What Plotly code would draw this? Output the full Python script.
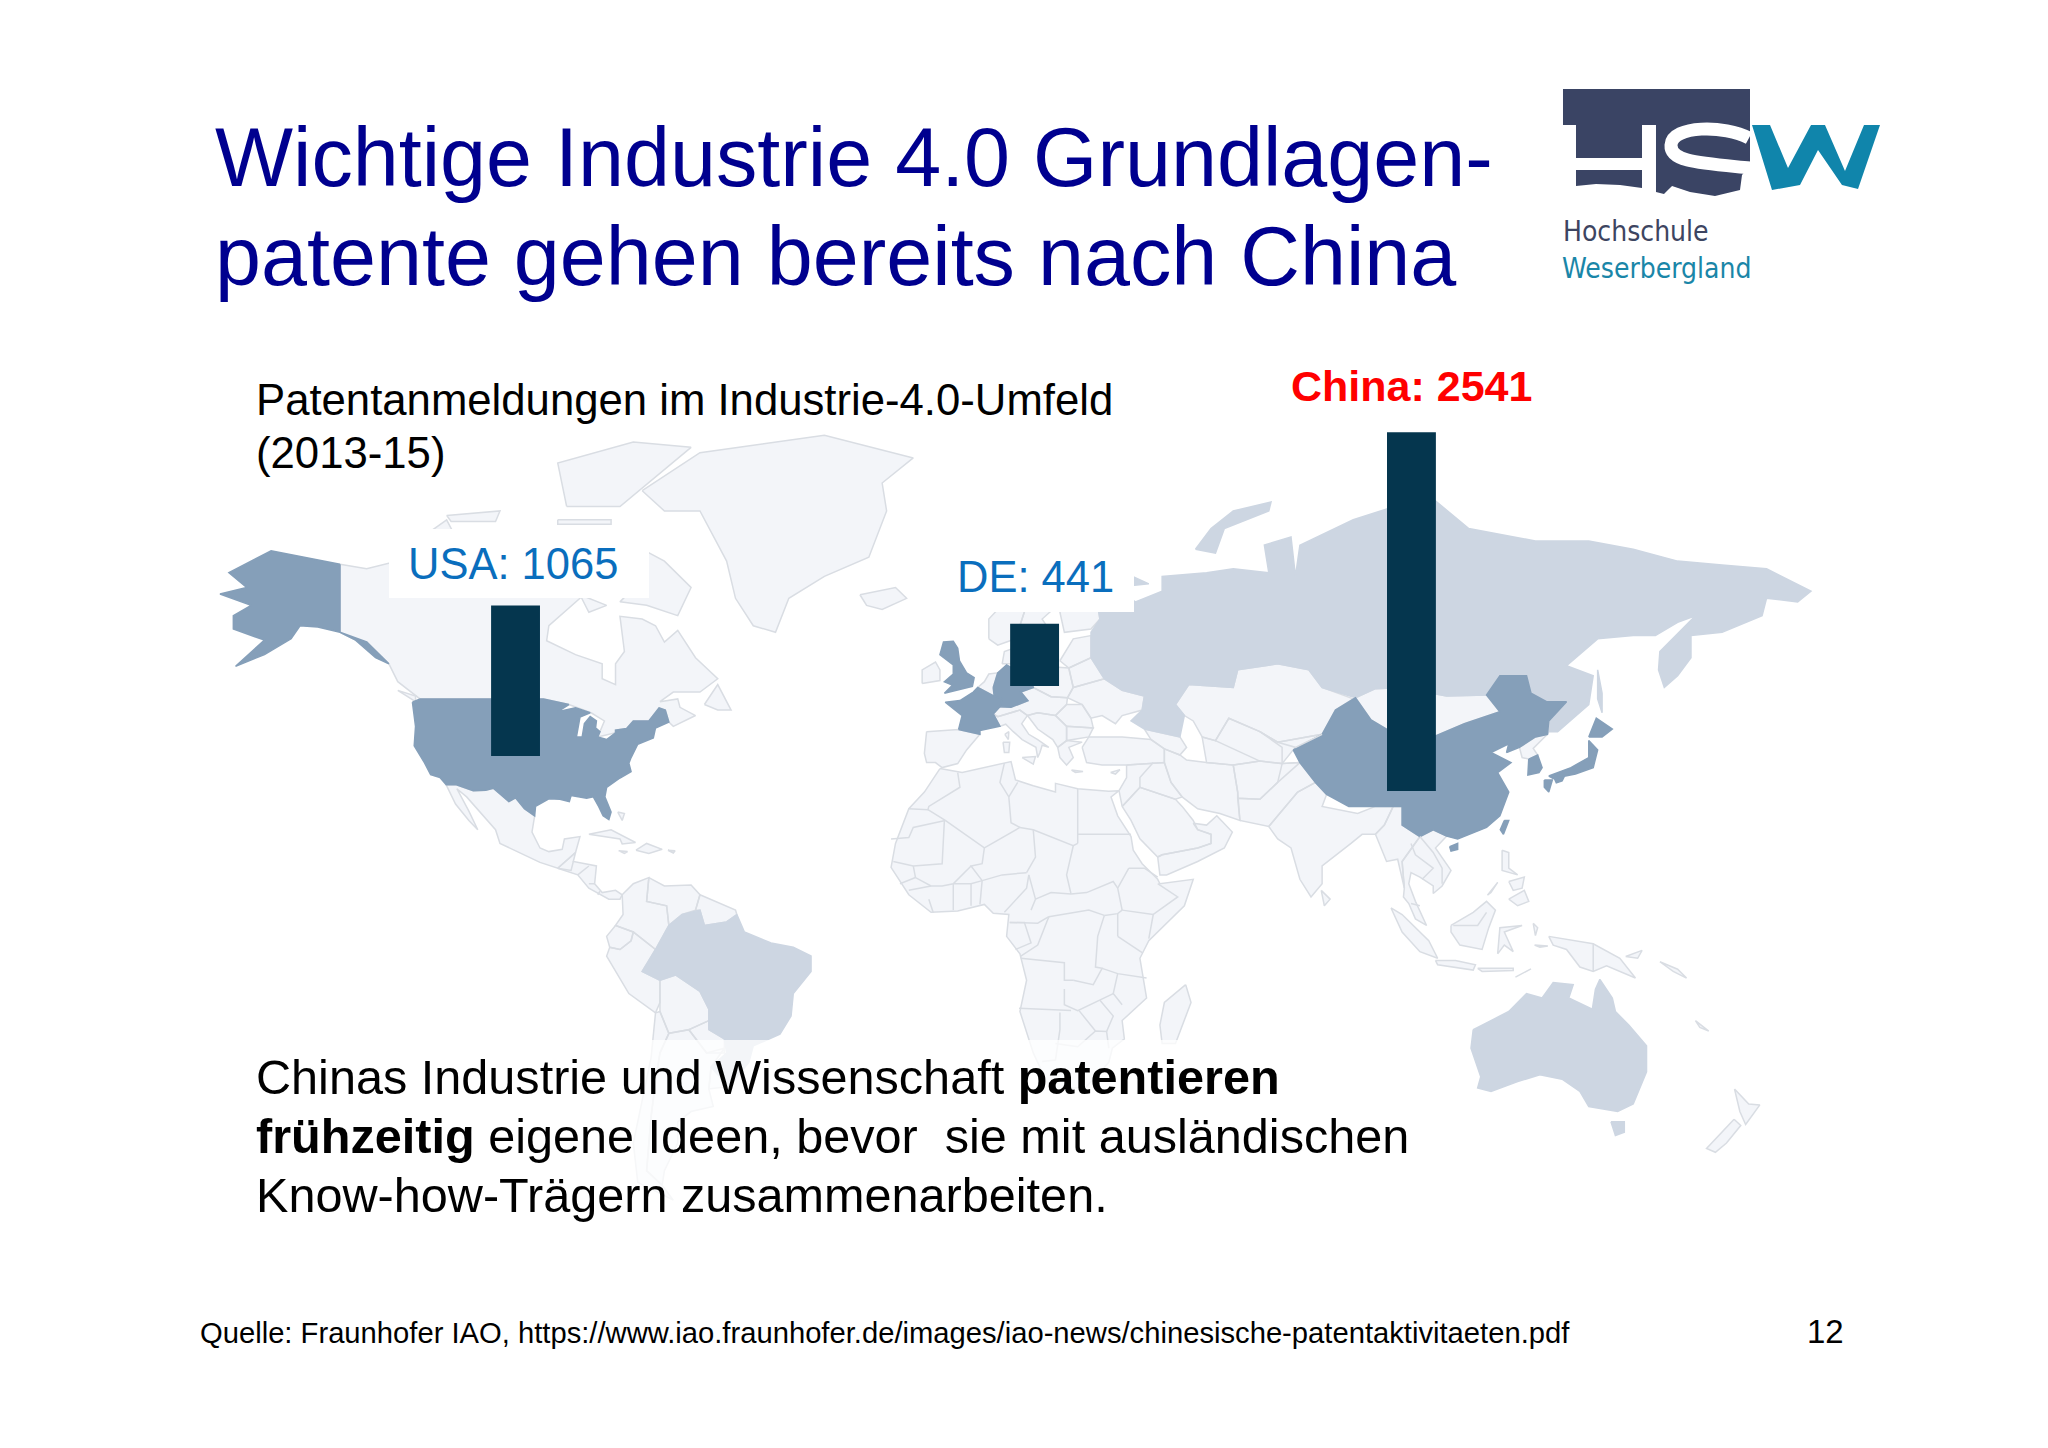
import numpy as np
import plotly.graph_objects as go

# patent filings 2013-15
countries = ["USA", "DE", "China"]
patents = [1065, 441, 2541]
bar_lon = [-101.5, 15.3, 100.1]

title_lines = ["Wichtige Industrie 4.0 Grundlagen-", "patente gehen bereits nach China"]
subtitle_lines = ["Patentanmeldungen im Industrie-4.0-Umfeld", "(2013-15)"]
body_lines = [
    "Chinas Industrie und Wissenschaft <b>patentieren</b>",
    "<b>frühzeitig</b> eigene Ideen, bevor \u00a0sie mit ausländischen",
    "Know-how-Trägern zusammenarbeiten.",
]
source_text = "Quelle: Fraunhofer IAO, https://www.iao.fraunhofer.de/images/iao-news/chinesische-patentaktivitaeten.pdf"

# country outlines as (lon, lat)
alaska = [(-141,69.6),(-156.5,71.3),(-166,68.5),(-162,66.5),(-168,65.6),(-161,64),(-165,62.5),(-165,60.5),(-158,58.8),(-164.5,54.6),(-158,56.5),(-152,59),(-150,61),(-146,60.8),(-141,60),(-135,58.5),(-130,55),(-133,56),(-137.5,58.8),(-141,60)]
conus = [(-124.7,48.4),(-123,49),(-95.2,49),(-89.5,48),(-92,46.7),(-88,47.4),(-84.7,46.5),(-87,45.7),(-87.8,42),(-86.5,42),(-86,44.5),(-84.7,45.8),(-83.3,45),(-83.5,43.7),(-82.5,43),(-83,42),(-81,41.5),(-79,42.8),(-79,43.3),(-76.5,43.6),(-75,45),(-71.5,45),(-69.2,47.4),(-67.8,47),(-67,44.8),(-70,43.7),(-70.5,41.8),(-74,40.6),(-75.5,38),(-76,36.9),(-75.5,35.2),(-78,33.9),(-81,32),(-81.4,30),(-80,26.8),(-80.5,25.2),(-81.8,26),(-82.8,28),(-84,30),(-85.5,29.7),(-89,30.3),(-89.4,29),(-91.5,29.5),(-94,29.6),(-97,28),(-97.2,26),(-99.5,27.5),(-101.5,29.8),(-103,29),(-104.8,30.5),(-106.5,31.8),(-108.2,31.4),(-111,31.3),(-114.8,32.5),(-117.1,32.5),(-118.5,34),(-120.6,34.6),(-122,37),(-124.3,40.3),(-124,44)]
china = [(73.5,39.5),(80,42.5),(83,47),(87.5,49.2),(91,45.2),(96,42.7),(105,42),(112,44.5),(120,46.7),(117,49.7),(120,53),(126,53),(127,50),(130.5,48.5),(135,48.5),(131,45),(130.7,42.5),(128,42),(124.4,40),(121.5,39),(122,40.7),(118,39),(122.5,37),(119.5,35),(122,31),(120,26),(117,23.5),(110.5,21),(108,21.6),(105,23),(102,21.5),(98,24),(98,28),(92,28),(86,28),(81,30.5),(78.5,33),(75,37)]
hainan = [(108.7,19.3),(110.5,20),(110.5,18.7),(109,18.3)]
taiwan = [(121,25),(122,25),(120.8,22),(120.1,23)]
germany = [(6,51),(7,53.5),(9,54.8),(11,54),(14,54),(15,51),(12.2,50.2),(13.8,48.7),(10,47.5),(7.5,47.6),(8,49),(6.2,49.5)]
france = [(-1.8,43.4),(-1,46),(-4.8,48.4),(-1.5,48.7),(1.5,50.2),(2.5,51),(6.2,49.5),(8,49),(7.5,47.6),(6,46.3),(7.5,44),(3,43.2),(3,42.5)]
britain = [(-5,50),(1.3,51.2),(1.7,52.7),(0,53.5),(-1.6,55.5),(-2,57.5),(-3,58.6),(-5.2,58.5),(-6,56.5),(-3,54.8),(-3,53.3),(-5,52),(-3.2,51.4)]
honshu = [(131,34.3),(136,36),(140,38),(140,41.3),(142,39.5),(141,36),(137,34.7),(132,33.8)]
hokkaido = [(140,42),(141.7,45.5),(145.3,43.5),(143,42)]
kyushu = [(130,33.5),(131.8,33.5),(131,31),(130,32)]
shikoku = [(132.2,33.9),(134.5,34.2),(134,33.3),(132.7,32.9)]
south_korea = [(126.5,37.7),(128.5,38.5),(129.5,36),(128.8,35),(126.3,34.5)]

russia = [(31,69.7),(41,67),(33,66.5),(38,64.5),(44,66),(44,68),(54,68.5),(60,69),(68,68.5),(67,72),(73,73),(74,68),(75,72),(81,73.5),(87,75),(104,77.7),(113,74),(128,72.5),(140,72.5),(150,71.5),(160,70),(170,69.5),(180,69),(190,66),(187,64.5),(180,65),(179,62.5),(170,60),(163,59.5),(163,56),(160,53),(157,51),(155.7,54),(156,57),(161,60.5),(164,62.5),(160,61.5),(155,59.5),(150,59.5),(142,59),(135,54.7),(141,53),(140,48),(133,43),(131,43),(130.7,42.5),(131,45),(135,48.5),(130.5,48.5),(127,50),(126,53),(120,53),(117,49.7),(108,49.5),(98,51),(92,50.8),(87.5,49.2),(80,51),(77,54),(70,55),(61,54),(60,51),(50,51.5),(47,48),(49,46),(48,42),(40,43.5),(37,45),(39.5,47),(40,49.5),(35,50.5),(31,52.5),(28,56),(28,60),(30,62),(29,66)]
novaya_zemlya = [(51.5,71.5),(55,74),(60,76),(68.5,77),(68,76),(58,74),(56,71)]
sakhalin = [(142,54),(143,50),(143,46.5),(142,49)]
brazil = [(-51.7,4),(-50,0),(-44,-2.5),(-39,-3.5),(-35,-5.5),(-35,-9),(-39,-14),(-39.5,-19),(-42,-23),(-48,-25.5),(-49,-29),(-53.5,-34),(-57.5,-30),(-54,-27),(-54.5,-24),(-58,-22),(-58,-17.5),(-60,-13.5),(-65.5,-9.8),(-69,-11),(-73,-9),(-70,-4),(-67,1.5),(-64,4),(-60,5),(-59,1.5),(-54,2.3)]
australia = [(114,-22),(113.5,-26),(115.7,-32),(115,-34.3),(118,-35),(124,-33),(129,-31.6),(134,-32.5),(138,-35),(140,-38),(146.5,-39),(150,-37.5),(153,-31),(153,-25.5),(149,-21),(146,-18),(145.3,-15),(142.5,-10.8),(141.5,-13),(140.8,-17.5),(135.5,-15),(136.5,-12),(132,-11.5),(129.5,-15),(126,-14),(122,-18),(117,-20.5)]
tasmania = [(145,-41),(148,-41),(148,-43),(146,-43.6)]

kazakhstan = [(47,48),(50,51.5),(60,51),(61,54),(70,55),(77,54),(80,51),(87,49),(83,47),(80,42.5),(70,41),(66,43),(59,45.5),(56,41.3),(53,42),(51,45),(49,46)]
mongolia = [(87.5,49.2),(92,50.8),(98,51),(108,49.5),(117,49.7),(120,46.7),(112,44.5),(105,42),(96,42.7),(91,45.2)]
canada = [(-141,69.6),(-135,69),(-128,70),(-115,68),(-108,68),(-95,68),(-94,72),(-90,69),(-85,69.5),(-81.5,69),(-87,65),(-94,61),(-94.5,58.7),(-88,56.5),(-82,55),(-82,52.5),(-79,51.5),(-79,55),(-77,57),(-78,62.4),(-73,62),(-70,61),(-68,58.5),(-65,60.3),(-61,56),(-56,52.5),(-60,50.2),(-66,50.2),(-69,48.5),(-65,49),(-64.5,47.5),(-61,46),(-66,44),(-67,44.8),(-67.8,47),(-69.2,47.4),(-71.5,45),(-75,45),(-76.5,43.6),(-79,43.3),(-79,42.8),(-83,42),(-82.5,43),(-81.5,45),(-84.5,46.5),(-89.5,48),(-95.2,49),(-123,49),(-128,52),(-130,55),(-135,58.5),(-137.5,58.8),(-141,60)]
baffin = [(-80,73.5),(-68,70),(-62,66.5),(-65,62.5),(-72,64),(-78,64.5),(-74,67),(-85,70)]
victoria_isl = [(-117,71),(-105,73),(-101,69),(-114,69)]
banks_isl = [(-125,72),(-117,75),(-115,73),(-122,71)]
ellesmere = [(-90,76.5),(-78,76.5),(-62,82.5),(-75,83),(-92,81)]
devon_isl = [(-92,75),(-80,75),(-80,74.5),(-92,74.5)]
melville_isl = [(-117,75.5),(-105,76),(-106,74.8),(-116,74.8)]
southampton = [(-87,65.5),(-81,64),(-85,63)]
newfoundland = [(-59,48),(-56,51.5),(-53,47),(-56,47)]
vancouver_isl = [(-128,50.5),(-124,48.5),(-124,49.5)]
greenland = [(-73,78.2),(-60,82),(-32,83.6),(-12,81.5),(-19,79),(-18,76),(-22,70.5),(-32,68),(-40,65),(-43,60),(-48,61),(-52,65),(-54,70),(-60,76),(-68,76)]
iceland = [(-24,65.5),(-16,66.5),(-13.5,65),(-19,63.4),(-22.5,64)]
mexico = [(-117.1,32.5),(-114.8,32.5),(-111,31.3),(-108.2,31.4),(-106.5,31.8),(-104.8,30.5),(-103,29),(-101.5,29.8),(-99.5,27.5),(-97.2,26),(-97.8,22.5),(-96,19),(-94,18.2),(-91,18.7),(-90.5,21),(-87,21.5),(-88,18),(-92,14.5),(-96,15.8),(-105,20),(-106,23),(-112.5,30),(-114.7,31.7),(-112,27),(-110,23),(-112,25),(-115,28.5)]
central_america = [(-92,14.5),(-88,18),(-88.5,16),(-83.3,15),(-83.7,11),(-82,9),(-79,9.5),(-77.5,8.5),(-78,7.5),(-80.5,7.5),(-85,10),(-87.5,13)]
cuba = [(-85,22),(-80,23),(-74.5,20.2),(-77.5,19.9),(-78,21)]
hispaniola = [(-74.4,18.5),(-72,20),(-68.5,18.7),(-71.5,17.8)]
jamaica = [(-78.3,18.4),(-76.3,18.2),(-77,17.8)]
puerto_rico = [(-67.2,18.5),(-65.6,18.4),(-66,17.9)]
bahamas = [(-78.5,26.8),(-77,26.5),(-77.5,25)]
colombia = [(-77.5,8.5),(-75,11),(-71.5,12.4),(-72,7),(-67.5,6),(-67,1.5),(-70,-4),(-75,0),(-79,1.5),(-77.3,4)]
venezuela = [(-71.5,12.4),(-68,10.5),(-62,10.7),(-60,8.5),(-61,5),(-64,4),(-67,1.5),(-67.5,6),(-72,7)]
guyanas = [(-60,8.5),(-52,5),(-51.7,4),(-54,2.3),(-59,1.5),(-60,5),(-61,5)]
ecuador = [(-79,1.5),(-75,0),(-75.5,-2),(-78,-4),(-80.3,-3.5),(-81,-1)]
peru = [(-80.3,-3.5),(-78,-4),(-75.5,-2),(-75,0),(-70,-4),(-73,-9),(-69,-11),(-69,-16),(-70,-18.3),(-76,-14),(-81,-5.5)]
bolivia = [(-69,-11),(-65.5,-9.8),(-60,-13.5),(-58,-17.5),(-58,-20),(-62.5,-22),(-67,-22.8),(-69,-18),(-69,-16)]
paraguay = [(-58,-20),(-58,-22),(-54.5,-24),(-54.5,-27),(-58.5,-27),(-62.5,-22)]
uruguay = [(-57.5,-30),(-53.5,-34),(-58,-34.5)]
argentina = [(-67,-22.8),(-62.5,-22),(-58.5,-27),(-54.5,-26),(-57.5,-30),(-58,-34.5),(-57,-38),(-62,-39),(-65,-41),(-65,-45),(-68,-50),(-68.5,-52.5),(-72,-50),(-71,-40),(-70,-33),(-69,-27)]
chile = [(-70,-18.3),(-69,-18),(-67,-22.8),(-69,-27),(-70,-33),(-71,-40),(-72,-50),(-68.5,-52.5),(-66,-55),(-74,-52),(-75,-45),(-73,-37),(-71,-28)]

ireland = [(-10,51.7),(-6,52.2),(-6,54),(-7,55.3),(-10,54)]
iberia = [(-9,43),(-1.8,43.4),(3,42.5),(0,39.5),(-2,36.8),(-5.5,36),(-7,37),(-9,37),(-9.5,38.8)]
benelux = [(2.5,51),(4,52),(5,53.3),(7,53.5),(6,51),(6.2,49.5)]
italy = [(7.5,44),(6,46.3),(7,45.8),(12,47),(13.7,46),(12.4,44.5),(14,42.5),(16,41.5),(18.5,40),(17,40.4),(16.5,39),(16,38),(15.6,40),(12.5,41.5),(10.5,43),(8.8,44.4)]
sicily = [(12.5,38),(15.5,38.2),(15,36.7)]
sardinia = [(8.2,41),(9.7,41),(9.5,39),(8.5,39)]
corsica = [(8.6,42.5),(9.5,43),(9.4,41.5)]
crete = [(23.6,35.5),(26.2,35.2),(24.5,35)]
cyprus = [(32.4,35),(34.5,35.6),(33.5,34.7)]
alpine_block = [(7.5,47.6),(10,47.5),(13.8,48.7),(12.2,50.2),(15,51),(19,49.4),(22.7,49.2),(22.5,48),(20,46),(16,46.5),(13.7,46),(12,47),(7,45.8),(6,46.3)]
poland = [(14,54),(19,54.5),(23,54.3),(24,51),(22.7,49.2),(19,49.4),(15,51)]
ukraine = [(24,51),(31,52.5),(35,50.5),(40,49.5),(39.5,47),(35,46),(33.5,44.5),(30.5,46),(28,45.5),(26,48),(22.7,49.2)]
belarus = [(23,54.3),(28,56),(31,52.5),(24,51)]
baltics = [(21,55.5),(24,59),(28,59.5),(28,56),(23,54.3)]
romania = [(20,46),(22.5,48),(26,48),(28,45.5),(28.5,43.7),(22.5,44)]
bulgaria = [(22.5,44),(28.5,43.7),(27.5,42),(22.5,41.3)]
west_balkans = [(13.7,46),(16,46.5),(20,46),(22.5,44),(22.5,41.3),(20.5,40),(19.4,41.5),(16,43.5)]
greece = [(20.5,40),(22.5,41.3),(26,41),(23,40),(24,38),(22.5,36.5),(21,38)]
turkey = [(26,40),(27.5,42),(35,42),(41.5,41.5),(44.5,39.7),(44.5,37),(36,36.5),(30.5,36.5),(27,37)]
norway = [(5,59),(5,62),(14,68),(25,71),(31,69.7),(29,69),(20,69),(14,65),(12,61),(11,59),(7,58)]
sweden = [(11,59),(12,61),(14,65),(20,69),(24,66),(17,62),(19,60),(16,56),(13,55.5)]
finland = [(20,69),(29,69),(29,66),(30,62),(28,60.5),(22,60),(21,63),(25,65.5),(24,66)]
denmark = [(8,55),(8.5,57),(10.5,57.5),(10,55)]
caucasus = [(40,43.5),(48,42),(49.5,40),(48,38.5),(44.5,39.7),(41.5,41.5)]

iran = [(44.5,39.7),(48,38.5),(49.5,37.5),(54,37),(60,36.5),(61,31),(61.5,25),(57,26.5),(52,27.5),(48.5,30),(46,33),(44.5,37)]
central_asia = [(53,42),(56,41.3),(59,45.5),(66,43),(70,41),(80,42.5),(73.5,39.5),(71,36.8),(66,37.3),(60,36.5),(54,37)]
afghanistan = [(60,36.5),(66,37.3),(71,36.8),(75,37),(70,33),(66,29.5),(61,29.7),(61,31)]
pakistan = [(61,29.7),(66,29.5),(70,33),(71,36.8),(75,37),(78.5,33),(74.5,31),(70,26),(68,23.7),(61.5,25)]
india = [(74.5,31),(78.5,33),(81,30.5),(80,28),(88,26.5),(92,28),(96,28),(94,24),(92,22),(89,22),(86.5,20),(80,15),(80,11),(77.5,8),(75,12),(73,19),(70,21),(68,23.7),(70,26)]
sri_lanka = [(79.8,9.5),(81.8,7.5),(80.5,6)]
myanmar = [(92,22),(94,24),(96,28),(98,28),(98,24),(102,21.5),(98,16),(98.5,10),(97,16.5),(94.5,16)]
indochina = [(102,21.5),(105,23),(108,21.6),(105.5,19),(109,14),(107,10.5),(105,8.8),(105,10.5),(102,12.5),(100,13.5),(99.5,11),(101,7),(103.5,1.5),(101,3),(99.5,6.5),(98.3,8),(98.5,10),(98,16)]
north_korea = [(124.4,40),(128,42),(130.7,42.5),(127.5,39.8),(128.5,38.5),(126.5,37.7),(125,38)]
saudi = [(35,28),(37,30),(39,32),(47,29.5),(48.5,28),(51,25),(52,23),(55,22),(55,20),(52,19),(44,17.5),(43,17),(39,21),(37,25)]
south_arabia = [(43,17),(44,17.5),(52,19),(55,20),(55,22),(52,23),(51,24.4),(54,24),(56.3,26),(59.8,22.5),(58,19),(52,16),(45,13),(43.5,13)]
levant_iraq = [(36,36.5),(44.5,37),(46,33),(48.5,30),(47,29.5),(39,32),(37,30),(35,28),(34.3,31.3),(36,34)]
sumatra = [(95.5,5.5),(98,4),(104,-2),(106,-6),(102,-4.5),(98,0)]
java = [(105.5,-6.5),(110,-6.5),(114.5,-7.5),(114,-8.7),(106,-7.5)]
lesser_sunda = [(115,-8.3),(119,-8.3),(123,-8.3),(123,-8.8),(116,-9)]
timor = [(123.5,-10.3),(127,-8.4),(125,-9.4)]
borneo = [(109,1.5),(114,4.5),(117,7),(119,5),(117.5,1),(116,-4),(111,-3),(109,0)]
sulawesi = [(119.5,-5),(120,1),(125,1.5),(121,0),(123,-4.5),(121,-3)]
halmahera = [(127.5,2),(128.5,1),(128,-0.8)]
seram = [(127.8,-3),(130.8,-3.2),(129,-3.5)]
new_guinea = [(131,-1),(141,-2.7),(147,-6),(150.5,-10.5),(144,-7.7),(141,-9),(138,-8),(135,-4),(132,-3)]
new_britain = [(148.3,-5.6),(152,-4.2),(151,-6)]
solomons = [(156,-6.8),(160,-8.5),(162,-10.5),(159,-9)]
new_caledonia = [(164,-20),(167,-22.3),(165,-21.5)]
luzon = [(120.5,18.5),(122,18),(122,14.5),(124,13),(120.5,14)]
visayas = [(122,11.5),(125.5,12.5),(125,10),(123,9.5)]
palawan = [(117.2,8.4),(119.5,11.3),(118,9)]
mindanao = [(122,7.5),(125.5,9.5),(126.5,7),(124,6)]
nz_north = [(172.8,-34.5),(176,-37.5),(178.5,-37.7),(175.3,-41.5),(174,-39)]
nz_south = [(172.7,-40.5),(174.2,-41.7),(171,-45),(168.5,-46.7),(166.5,-46),(171,-42)]
madagascar = [(49.3,-12),(50.5,-16),(47,-25),(44,-25),(43.5,-21),(44.5,-16)]
africa = [(-6,35.8),(-1,35),(10,37.2),(11,33.5),(15,32.3),(20,31),(20,32.8),(25,31.7),(32,31.2),(34.3,31.3),(32.5,30),(34,26),(37,21.5),(37.5,18.5),(39.5,15.5),(43,12),(43.5,11),(51,12),(49,6),(41,-2),(39,-6),(40.5,-15),(35,-20),(35.5,-24),(32.8,-26),(32,-29),(27,-34),(20,-34.8),(18,-33),(15,-27),(12,-18),(13.5,-11),(12,-5),(9,-1),(9.5,4),(6,4.3),(4,6.3),(-2,4.8),(-8,4.5),(-13,8.5),(-17,14.7),(-16,20),(-13,27.5),(-9.5,31)]

africa_borders = [
    [(-2,35),(-1.5,32),(-8.5,28),(-8.7,27.3),(-13,27.5)],
    [(-8.7,27.3),(-4.8,25),(-12,23.5),(-13,21.3),(-17,21)],
    [(-4.8,25),(1,21),(4,19),(12,23.5)],
    [(8.5,36.9),(7.5,33),(9.5,30),(10,24.5),(12,23.5)],
    [(11.5,33),(9.5,30)],
    [(25,31.7),(25,20)],
    [(25,22),(37,22)],
    [(12,23.5),(15,23),(24,19.5),(25,20)],
    [(15,23),(15.5,17),(13.5,13.5)],
    [(3.5,11.7),(8,13),(13.5,13.5)],
    [(4,19),(3.5,15.5),(1,15),(3.5,11.7)],
    [(-16.5,16),(-12,15),(-5.5,15.5),(-5,25)],
    [(-12,15),(-11.5,12.4),(-8,10.5),(-5.5,10.5),(-3,11),(1,15)],
    [(-15,11),(-11.5,12.4)],
    [(-13,9.5),(-8,10.5)],
    [(-8.5,7.5),(-7.5,4.4)],
    [(-3,11),(-3,5)],
    [(1,11),(1,6)],
    [(-3,11),(1,11),(3.5,11.7)],
    [(3,6.3),(3.5,11.7)],
    [(8.5,4.5),(13.5,10),(14,13)],
    [(14.5,5),(15.5,7.5),(14,13)],
    [(15.5,7.5),(19,9),(23.5,8.7)],
    [(24,19.5),(22.5,13),(23.5,8.7)],
    [(18.5,3.5),(24,4.5),(27.5,5),(31,3.8)],
    [(23.5,8.7),(27,9),(33,11.5),(34,10)],
    [(36.5,14.5),(34,10),(35,5)],
    [(31,3.8),(34,4.2),(35,5)],
    [(43,11),(47.5,8),(42,4),(41,-1.5)],
    [(35,5),(41,4),(42,4)],
    [(34,4.2),(34,-1)],
    [(34,-1),(39.5,-4.7)],
    [(36.5,14.5),(40,14.5),(43,12.5)],
    [(9.7,2.2),(13,2.2),(14.5,-2.5),(11,-4)],
    [(18.5,3.5),(16,-3),(12.2,-5.5)],
    [(9.7,2.2),(16,2),(18.5,3.5)],
    [(12.2,-6),(22,-7),(22,-11),(24,-11)],
    [(31,3.8),(29.5,-1),(29,-8),(30.5,-8.3),(28.5,-12),(24,-11)],
    [(30.5,-8.3),(34,-9.5),(40.5,-10.5)],
    [(34,-9.5),(33,-14),(35,-16.5)],
    [(22,-13),(22,-16.5),(25,-17.8),(30,-15.5),(33,-14)],
    [(11.8,-17.3),(23.5,-17.8)],
    [(30,-15.5),(33,-19),(31.5,-22.4)],
    [(21,-18.2),(21,-22),(20,-28.5),(17,-28.8)],
    [(20,-25),(25,-25.7),(29,-22.3),(31.5,-22.4),(32,-26)],
    [(25.3,-17.8),(29,-22.3)],
]

asia_borders = [
    [(42,37),(39,34),(39,32)],
    [(-92,14.5),(-89,14),(-88.5,16)],
    [(-87.5,13),(-85,15)],
    [(-85,11),(-83.7,11)],
    [(-83,8.5),(-82.5,9.3)],
    [(102,21.5),(105,18),(107,14.5),(107,11)],
    [(100,20),(101,17.5),(105,14.5),(102.5,12)],
    [(100,6.5),(102,6)],
    [(141,-2.7),(141,-9)],
    [(56,41.3),(66,37.3)],
    [(66,43),(71,40),(71,36.8)],
    [(70,41),(74,40),(80,42.5)],
    [(117,4.5),(115,1.5),(109.5,1.5)],
]

dark_land = [alaska, conus, china, hainan, taiwan, germany, france, britain, honshu, hokkaido, kyushu, shikoku, south_korea]
mid_land = [russia, novaya_zemlya, sakhalin, brazil, australia, tasmania]
pale_land = [kazakhstan, mongolia, canada, baffin, victoria_isl, banks_isl, ellesmere, devon_isl, melville_isl,
             southampton, newfoundland, vancouver_isl, greenland, iceland, mexico, central_america, cuba, hispaniola,
             jamaica, puerto_rico, bahamas, colombia, venezuela, guyanas, ecuador, peru, bolivia, paraguay, uruguay,
             argentina, chile, ireland, iberia, benelux, italy, sicily, sardinia, corsica, crete, cyprus, alpine_block,
             poland, ukraine, belarus, baltics, romania, bulgaria, west_balkans, greece, turkey, norway, sweden,
             finland, denmark, caucasus, iran, central_asia, afghanistan, pakistan, india, sri_lanka, myanmar,
             indochina, north_korea, saudi, south_arabia, levant_iraq, sumatra, java, lesser_sunda, timor, borneo,
             sulawesi, halmahera, seram, new_guinea, new_britain, solomons, new_caledonia, luzon, visayas, palawan,
             mindanao, nz_north, nz_south, madagascar, africa]

W, H = 2048, 1448
LON_ZERO_PX, PX_PER_LON = 966.6, 4.444
EQUATOR_PX, PX_PER_MILLER = 932.0, 4.37
PX_PER_PATENT = 0.1412
BAR_BOTTOM_PX = [756, 686, 791]
EDGE = "#d9dde3"


def miller(lat):
    # Miller cylindrical, in degrees so it is on a par with longitude
    return np.degrees(1.25 * np.log(np.tan(np.pi / 4 + 0.4 * np.radians(lat))))


def polygon_xy(polys):
    xs, ys = [], []
    for poly in polys:
        closed = list(poly) + [poly[0]]
        xs += [p[0] for p in closed] + [None]
        ys += [float(miller(p[1])) for p in closed] + [None]
    return xs, ys


def line_xy(lines):
    xs, ys = [], []
    for line in lines:
        xs += [p[0] for p in line] + [None]
        ys += [float(miller(p[1])) for p in line] + [None]
    return xs, ys


def pt(p):
    return f"{p[0] / W:.5f},{1 - p[1] / H:.5f}"


def logo_path(points):
    # logo points are in page pixels
    return "M" + " L".join(pt(p) for p in points) + " Z"


fig = go.Figure()

for polys, fill, edge in [(pale_land, "#f3f5f9", EDGE),
                          (mid_land, "#cdd6e2", "#cdd6e2"),
                          (dark_land, "#859fb9", "#859fb9")]:
    xs, ys = polygon_xy(polys)
    fig.add_trace(go.Scatter(x=xs, y=ys, mode="lines", fill="toself", fillcolor=fill,
                             line=dict(color=edge, width=1.5), hoverinfo="skip"))

xs, ys = line_xy(africa_borders + asia_borders)
fig.add_trace(go.Scatter(x=xs, y=ys, mode="lines", line=dict(color=EDGE, width=1.5), hoverinfo="skip"))

# bars hang on the map at their country, height is the patent count
bar_base = [(H - b) / PX_PER_PATENT for b in BAR_BOTTOM_PX]
fig.add_trace(go.Bar(x=bar_lon, y=patents, base=bar_base, width=11, yaxis="y2",
                     marker_color="#05364e", marker_line_width=0, text=countries, textposition="none"))

shapes = [
    # white boxes behind labels and lower text
    dict(type="rect", xref="paper", yref="paper", x0=389 / W, x1=649 / W, y0=1 - 598 / H, y1=1 - 529 / H,
         fillcolor="white", line_width=0),
    dict(type="rect", xref="paper", yref="paper", x0=950 / W, x1=1134 / W, y0=1 - 612 / H, y1=1 - 548 / H,
         fillcolor="white", line_width=0),
    dict(type="rect", xref="paper", yref="paper", x0=240 / W, x1=1430 / W, y0=1 - 1240 / H, y1=1 - 1040 / H,
         fillcolor="white", opacity=0.75, line_width=0),
]

# HSW logo
logo_dark = "#3a4464"
logo_teal = "#1085ab"
s_curve = ("M" + pt((1749, 138)) + " C" + pt((1725, 125)) + " " + pt((1672, 125)) + " " + pt((1671, 145))
           + " C" + pt((1670, 162)) + " " + pt((1700, 163)) + " " + pt((1750, 168)))
shapes += [
    dict(type="path", xref="paper", yref="paper", line_width=0, fillcolor=logo_dark,
         path=logo_path([(1563, 89), (1750, 89), (1750, 125), (1642, 125), (1642, 158),
                         (1576, 158), (1576, 125), (1563, 125)])),
    dict(type="path", xref="paper", yref="paper", line_width=0, fillcolor=logo_dark,
         path=logo_path([(1576, 170), (1642, 170), (1642, 188), (1620, 185), (1596, 184), (1576, 186)])),
    dict(type="path", xref="paper", yref="paper", line_width=0, fillcolor=logo_dark,
         path=logo_path([(1656, 125), (1750, 125), (1750, 166), (1742, 175), (1740, 190), (1715, 196), (1690, 192),
                         (1672, 186), (1664, 194), (1656, 192)])),
    dict(type="path", xref="paper", yref="paper", line=dict(color="white", width=13), path=s_curve),
    dict(type="path", xref="paper", yref="paper", line_width=0, fillcolor=logo_teal,
         path=logo_path([(1752, 125), (1770, 125), (1788, 168), (1811, 125), (1825, 125), (1845, 171), (1864, 125),
                         (1880, 125), (1858, 189), (1842, 185), (1818, 150), (1800, 185), (1772, 190)])),
]


def add_text(text, x, y, size, color="black", family="Liberation Sans"):
    fig.add_annotation(text=text, x=x / W, y=1 - y / H, xref="paper", yref="paper", xanchor="left", yanchor="middle",
                       showarrow=False, align="left", font=dict(family=family, size=size, color=color))


add_text(title_lines[0], 213, 157, 82.7, "#00008f")
add_text(title_lines[1], 213, 256, 82.7, "#00008f")
add_text(subtitle_lines[0], 254, 400, 43.7)
add_text(subtitle_lines[1], 254, 452, 43.7)
add_text("<b>China: 2541</b>", 1289, 386, 43, "#ff0000")
add_text("USA: 1065", 406, 564, 43.5, "#0a6ebd")
add_text("DE: 441", 955, 577, 43.5, "#0a6ebd")
add_text(body_lines[0], 254, 1077, 48.6)
add_text(body_lines[1], 254, 1136, 48.6)
add_text(body_lines[2], 254, 1195, 48.6)
add_text(source_text, 198, 1333, 29.2)
add_text("12", 1805, 1331, 33)
add_text("Hochschule", 1561, 231, 28, "#3d4561", "DejaVu Sans Condensed, Liberation Sans")
add_text("Weserbergland", 1560, 269, 28, "#1a86a8", "DejaVu Sans Condensed, Liberation Sans")

fig.update_layout(
    width=W, height=H, margin=dict(l=0, r=0, t=0, b=0),
    plot_bgcolor="white", paper_bgcolor="white", showlegend=False, shapes=shapes,
    xaxis=dict(visible=False, range=[-LON_ZERO_PX / PX_PER_LON, (W - LON_ZERO_PX) / PX_PER_LON], domain=[0, 1]),
    yaxis=dict(visible=False, range=[(EQUATOR_PX - H) / PX_PER_MILLER, EQUATOR_PX / PX_PER_MILLER], domain=[0, 1]),
    yaxis2=dict(visible=False, overlaying="y", range=[0, H / PX_PER_PATENT]),
)

fig.write_html("out.html", config={"displayModeBar": False}, post_script="document.body.style.margin='0';")
